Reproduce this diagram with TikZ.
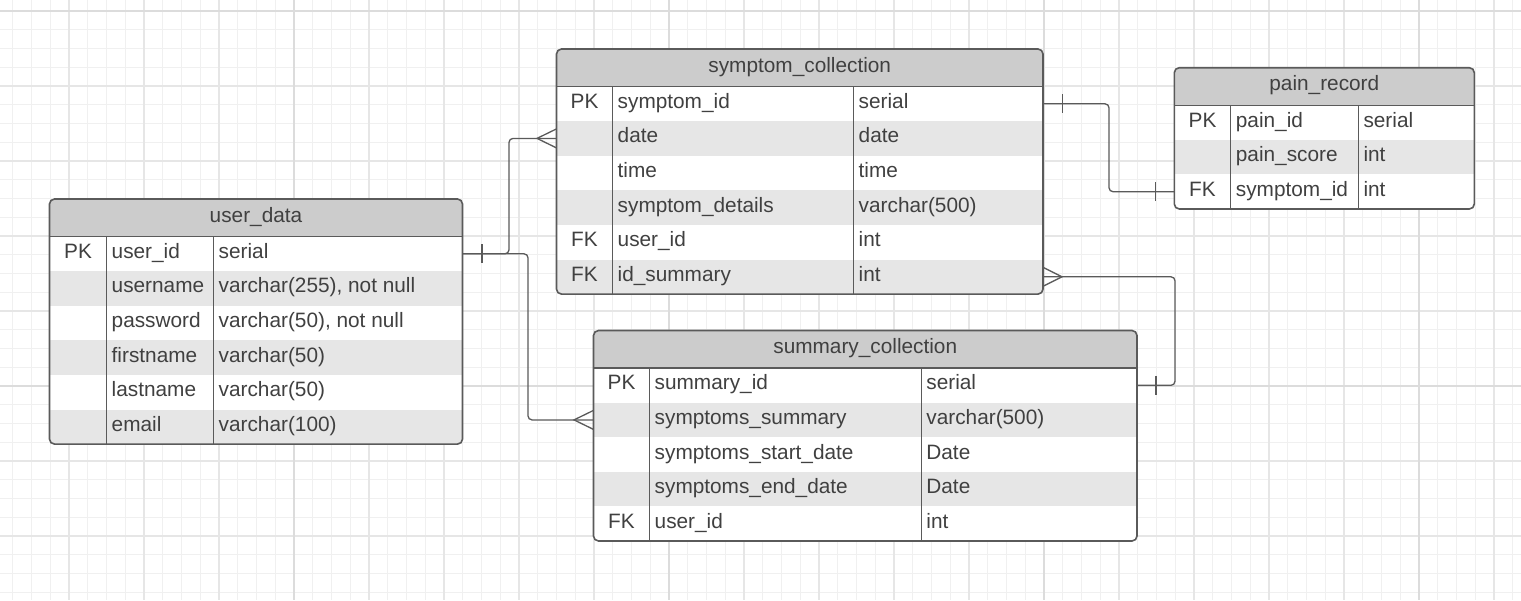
\documentclass[tikz,border=0pt]{standalone}
\usepackage{fontspec}
\setmainfont{Liberation Sans}
\definecolor{headgray}{HTML}{CCCCCC}
\definecolor{stripegray}{HTML}{E6E6E6}
\definecolor{framegray}{HTML}{5A5A5A}
\definecolor{textgray}{HTML}{404040}
\definecolor{gridlight}{HTML}{F0F0F0}
\definecolor{gridmid}{HTML}{E6E6E6}
\definecolor{griddark}{HTML}{DCDCDC}
\begin{document}
\begin{tikzpicture} [
        x=1pt, y=-1pt,
        font=\fontsize{20.8pt}{25pt}\selectfont,
        minorline/.style = {draw=gridlight, line width=1.2pt},
        midline/.style = {draw=gridmid, line width=1.5pt},
        majorline/.style = {draw=griddark, line width=2pt},
        tablehead/.style = {rectangle, fill=headgray, text=textgray, inner sep=0pt, outer sep=0pt,
            minimum height=37.5pt, anchor=north west, text height=14pt, text depth=5pt},
        tablerow/.style = {rectangle, inner sep=0pt, outer sep=0pt, minimum height=34.6pt, anchor=north west},
        keycell/.style = {text=textgray, inner sep=0pt, text height=14pt, text depth=5pt},
        namecell/.style = {keycell, anchor=west},
        tableframe/.style = {draw=framegray, line width=1.6pt, rounded corners=5pt},
        divider/.style = {draw=framegray, line width=1.4pt},
        relation/.style = {draw=framegray, line width=1.3pt, rounded corners=4pt},
        erdmark/.style = {draw=framegray, line width=1.3pt},
    ]
    \useasboundingbox (0,0) rectangle (1521,600);
    \fill[white] (0,0) rectangle (1521,600);
    % grid
    \foreach \gx in {12.75,31.5,...,1521}
        \draw[minorline] (\gx,0) -- (\gx,600);
    \foreach \gy in {11,29.75,...,600}
        \draw[minorline] (0,\gy) -- (1521,\gy);
    \foreach \gx in {69,144,...,1521}
        \draw[midline] (\gx,0) -- (\gx,600);
    \foreach \gy in {11,86,...,600}
        \draw[midline] (0,\gy) -- (1521,\gy);
    \foreach \gx in {294,669,1044,1419}
        \draw[majorline] (\gx,0) -- (\gx,600);
    \foreach \gy in {11,386}
        \draw[majorline] (0,\gy) -- (1521,\gy);

    % user_data
    \begin{scope}
        \clip[rounded corners=5pt] (49.5,199) rectangle (462.5,444.1);
        \node[tablehead, minimum width=413pt] (ud) at (49.5,199) {user\_data};
        \foreach \i/\k/\n/\t in {
                1/PK/user\_id/serial, 2//username/{varchar(255), not null},
                3//password/{varchar(50), not null}, 4//firstname/varchar(50),
                5//lastname/varchar(50), 6//email/varchar(100)} {
            \ifodd\i \def\rowfill{white}\else \def\rowfill{stripegray}\fi
            \node[tablerow, fill=\rowfill, minimum width=413pt] (ud-\i) at (49.5,{236.5+(\i-1)*34.6}) {};
            \node[keycell] at ([xshift=28.5pt]ud-\i.west) {\k};
            \node[namecell] at ([xshift=62pt]ud-\i.west) {\n};
            \node[namecell] at ([xshift=169pt]ud-\i.west) {\t};
        }
    \end{scope}
    \draw[tableframe] (ud.north west) rectangle (ud-6.south east);
    \draw[divider] (ud.south west) -- (ud.south east)
        ([xshift=57pt]ud.south west) -- ([xshift=57pt]ud-6.south west)
        ([xshift=164pt]ud.south west) -- ([xshift=164pt]ud-6.south west);

    % symptom_collection
    \begin{scope}
        \clip[rounded corners=5pt] (556.5,49) rectangle (1043,294.1);
        \node[tablehead, minimum width=486.5pt] (sc) at (556.5,49) {symptom\_collection};
        \foreach \i/\k/\n/\t in {
                1/PK/symptom\_id/serial, 2//date/date, 3//time/time,
                4//symptom\_details/varchar(500), 5/FK/user\_id/int, 6/FK/id\_summary/int} {
            \ifodd\i \def\rowfill{white}\else \def\rowfill{stripegray}\fi
            \node[tablerow, fill=\rowfill, minimum width=486.5pt] (sc-\i) at (556.5,{86.5+(\i-1)*34.6}) {};
            \node[keycell] at ([xshift=28pt]sc-\i.west) {\k};
            \node[namecell] at ([xshift=61pt]sc-\i.west) {\n};
            \node[namecell] at ([xshift=302pt]sc-\i.west) {\t};
        }
    \end{scope}
    \draw[tableframe] (sc.north west) rectangle (sc-6.south east);
    \draw[divider] (sc.south west) -- (sc.south east)
        ([xshift=56pt]sc.south west) -- ([xshift=56pt]sc-6.south west)
        ([xshift=297pt]sc.south west) -- ([xshift=297pt]sc-6.south west);

    % pain_record
    \begin{scope}
        \clip[rounded corners=5pt] (1174.3,67.7) rectangle (1474.3,209);
        \node[tablehead, minimum width=300pt] (pr) at (1174.3,67.7) {pain\_record};
        \foreach \i/\k/\n/\t in {
                1/PK/pain\_id/serial, 2//pain\_score/int, 3/FK/symptom\_id/int} {
            \ifodd\i \def\rowfill{white}\else \def\rowfill{stripegray}\fi
            \node[tablerow, fill=\rowfill, minimum width=300pt] (pr-\i) at (1174.3,{105.2+(\i-1)*34.6}) {};
            \node[keycell] at ([xshift=28.2pt]pr-\i.west) {\k};
            \node[namecell] at ([xshift=61.4pt]pr-\i.west) {\n};
            \node[namecell] at ([xshift=189pt]pr-\i.west) {\t};
        }
    \end{scope}
    \draw[tableframe] (pr.north west) rectangle (pr-3.south east);
    \draw[divider] (pr.south west) -- (pr.south east)
        ([xshift=56.4pt]pr.south west) -- ([xshift=56.4pt]pr-3.south west)
        ([xshift=184pt]pr.south west) -- ([xshift=184pt]pr-3.south west);

    % summary_collection
    \begin{scope}
        \clip[rounded corners=5pt] (593.5,330.5) rectangle (1137,541);
        \node[tablehead, minimum width=543.5pt] (scl) at (593.5,330.5) {summary\_collection};
        \foreach \i/\k/\n/\t in {
                1/PK/summary\_id/serial, 2//symptoms\_summary/varchar(500),
                3//symptoms\_start\_date/Date, 4//symptoms\_end\_date/Date, 5/FK/user\_id/int} {
            \ifodd\i \def\rowfill{white}\else \def\rowfill{stripegray}\fi
            \node[tablerow, fill=\rowfill, minimum width=543.5pt] (scl-\i) at (593.5,{368+(\i-1)*34.6}) {};
            \node[keycell] at ([xshift=28pt]scl-\i.west) {\k};
            \node[namecell] at ([xshift=61pt]scl-\i.west) {\n};
            \node[namecell] at ([xshift=332.7pt]scl-\i.west) {\t};
        }
    \end{scope}
    \draw[tableframe] (scl.north west) rectangle (scl-5.south east);
    \draw[divider] (scl.south west) -- (scl.south east)
        ([xshift=56pt]scl.south west) -- ([xshift=56pt]scl-5.south west)
        ([xshift=327.7pt]scl.south west) -- ([xshift=327.7pt]scl-5.south west);

    % relations
    \draw[relation] (ud-1.east) -- ++(46.5,0) |- (sc-2.west);
    \draw[relation] (ud-1.east) -- ++(65.5,0) |- (scl-2.west);
    \draw[relation] (sc-1.east) -- ++(66,0) |- (pr-3.west);
    \draw[relation] (sc-6.east) -- ++(132,0) |- (scl-1.east);
    % one / many marks
    \draw[erdmark] ([xshift=19.5pt]ud-1.east) ++(0,-9.5) -- ++(0,19);
    \draw[erdmark] ([yshift=9.5pt]sc-2.west) -- ([xshift=-19.5pt]sc-2.west) -- ([yshift=-9.5pt]sc-2.west);
    \draw[erdmark] ([yshift=9.5pt]scl-2.west) -- ([xshift=-19.5pt]scl-2.west) -- ([yshift=-9.5pt]scl-2.west);
    \draw[erdmark] ([xshift=19.5pt]sc-1.east) ++(0,-9.5) -- ++(0,19);
    \draw[erdmark] ([xshift=-19pt]pr-3.west) ++(0,-9.5) -- ++(0,19);
    \draw[erdmark] ([yshift=9.5pt]sc-6.east) -- ([xshift=19pt]sc-6.east) -- ([yshift=-9.5pt]sc-6.east);
    \draw[erdmark] ([xshift=19pt]scl-1.east) ++(0,-9.5) -- ++(0,19);
\end{tikzpicture}
\end{document}
